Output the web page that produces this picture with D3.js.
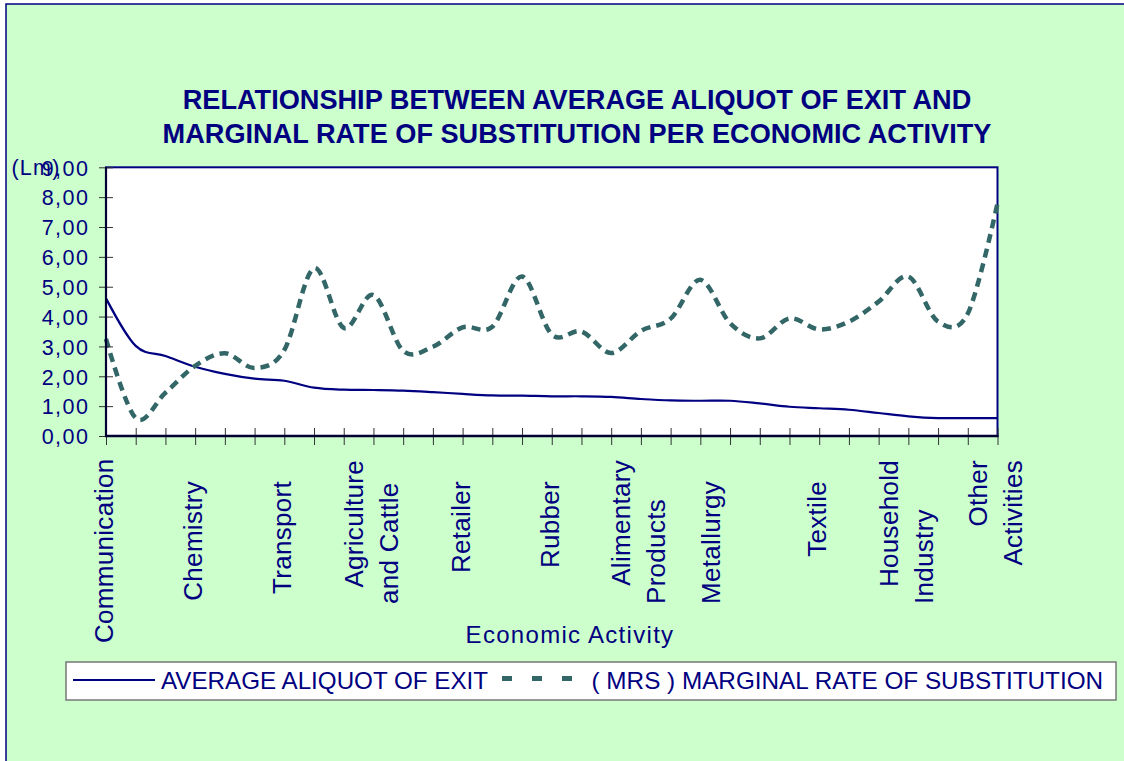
<!DOCTYPE html>
<html><head><meta charset="utf-8">
<script src="https://cdn.jsdelivr.net/npm/d3@7/dist/d3.min.js"></script>
<style>html,body{margin:0;padding:0;background:#fff;overflow:hidden}</style>
</head><body>
<svg id="chart" width="1124" height="761"></svg>
<script>
// ---------- DATA ----------
const titleLines = [
  "RELATIONSHIP BETWEEN AVERAGE ALIQUOT OF EXIT AND",
  "MARGINAL RATE OF SUBSTITUTION PER ECONOMIC ACTIVITY"
];
const xAxisTitle = "Economic Activity";
const yUnitLabel = "(Lm)";
const seriesNames = ["AVERAGE ALIQUOT OF EXIT", "( MRS ) MARGINAL RATE OF SUBSTITUTION"];
// values at the 31 category points (labels shown every third point)
const averageAliquot = [4.61, 3.02, 2.68, 2.32, 2.08, 1.92, 1.85, 1.62, 1.55, 1.54,
  1.52, 1.47, 1.41, 1.36, 1.35, 1.33, 1.33, 1.31, 1.24, 1.19,
  1.18, 1.18, 1.09, 0.98, 0.93, 0.88, 0.77, 0.66, 0.60, 0.60, 0.60];
const marginalRate = [3.25, 0.60, 1.45, 2.35, 2.77, 2.28, 2.88, 5.62, 3.62, 4.72,
  2.85, 2.99, 3.64, 3.66, 5.34, 3.40, 3.50, 2.78, 3.52, 3.93,
  5.23, 3.78, 3.27, 3.94, 3.57, 3.83, 4.50, 5.34, 3.83, 4.10, 7.79];
const categoryLabels = [
  ["Communication"], ["Chemistry"], ["Transport"], ["Agriculture", "and Cattle"],
  ["Retailer"], ["Rubber"], ["Alimentary", "Products"], ["Metallurgy", ""],
  ["Textile"], ["Household", "Industry"], ["Other", "Activities"]
];
const labelStep = 3;
const yTickValues = [0, 1, 2, 3, 4, 5, 6, 7, 8, 9];

// ---------- LAYOUT ----------
const W = 1124, H = 761;
const plot = {left: 106, right: 997.5, top: 167.3, bottom: 436};
const navy = "#000080", teal = "#336666";
const FONT = "'Liberation Sans', Arial, sans-serif";

const svg = d3.select("#chart").attr("font-family", FONT);

svg.append("rect").attr("width", W).attr("height", H).attr("fill", "#fff");
svg.append("rect").attr("x", 6).attr("y", 4).attr("width", W + 20).attr("height", H + 20)
  .attr("fill", "#CCFFCC").attr("stroke", navy).attr("stroke-width", 1.5);

// title
svg.append("g").selectAll("text").data(titleLines).join("text")
  .attr("x", 577).attr("y", (d, i) => 109 + i * 34)
  .attr("text-anchor", "middle").attr("font-weight", "bold").attr("font-size", 27.15)
  .attr("fill", navy).text(d => d);

const n = averageAliquot.length;
const x = d3.scaleLinear().domain([0, n - 1]).range([plot.left, plot.right]);
const y = d3.scaleLinear().domain([0, 9]).range([plot.bottom, plot.top]);

// plot area
svg.append("rect").attr("x", plot.left).attr("y", plot.top)
  .attr("width", plot.right - plot.left).attr("height", plot.bottom - plot.top)
  .attr("fill", "#fff").attr("stroke", navy).attr("stroke-width", 2);

// series
const line = d3.line().x((d, i) => x(i)).y(d => y(d)).curve(d3.curveCardinal.tension(0));
svg.append("path").datum(averageAliquot).attr("d", line)
  .attr("fill", "none").attr("stroke", navy).attr("stroke-width", 2.2);
svg.append("path").datum(marginalRate).attr("d", line)
  .attr("fill", "none").attr("stroke", teal).attr("stroke-width", 4.5)
  .attr("stroke-dasharray", "9,6");

// y axis
const fmt = v => d3.format(".2f")(v).replace(".", ",");
const gy = svg.append("g").attr("transform", `translate(${plot.left},0)`)
  .call(d3.axisLeft(y).tickValues(yTickValues).tickFormat(fmt).tickSize(7));
gy.select(".domain").remove();
gy.selectAll(".tick line").attr("x1", -7).attr("x2", 7).attr("stroke", "#333").attr("stroke-width", 1);
gy.selectAll(".tick text").attr("x", -16.5).attr("dy", "0.36em")
  .attr("font-size", 21.5).attr("letter-spacing", 1.5).attr("fill", navy)
  .attr("font-family", FONT);

svg.append("text").attr("x", 11.5).attr("y", y(9) + 7.6).attr("font-size", 21.5)
  .attr("letter-spacing", 1.2).attr("fill", navy).text(yUnitLabel);

// x axis ticks
const gx = svg.append("g").attr("transform", `translate(0,${plot.bottom})`)
  .call(d3.axisBottom(x).tickValues(d3.range(n)).tickFormat("").tickSize(9));
gx.select(".domain").remove();
gx.selectAll(".tick line").attr("y1", -8).attr("y2", 9).attr("stroke", "#333").attr("stroke-width", 1);

// axis lines
svg.append("line").attr("x1", plot.left).attr("x2", plot.left).attr("y1", plot.top).attr("y2", plot.bottom + 1)
  .attr("stroke", "#000033").attr("stroke-width", 2.2);
svg.append("line").attr("x1", plot.left - 1).attr("x2", plot.right + 1).attr("y1", plot.bottom).attr("y2", plot.bottom)
  .attr("stroke", "#000033").attr("stroke-width", 2.4);

// category labels (rotated)
const gl = svg.append("g");
categoryLabels.forEach((lines, k) => {
  const tx = x(k * labelStep);
  const nl = lines.length;
  const visible = lines.filter(s => s !== "").length;
  const lens = [];
  lines.forEach((s, j) => {
    if (s === "") { lens.push(0); return; }
    const bx = tx + 7 + (j - (nl - 1) / 2) * 35;
    const t = gl.append("text").attr("text-anchor", "end").attr("font-size", 26)
      .attr("letter-spacing", 0.3).attr("fill", navy).text(s);
    const L = t.node().getComputedTextLength();
    lens.push(L);
    let top;
    if (visible === 1) {
      top = 481;
      if (top + L > 643) top = 643 - L;
    } else if (j === 0) {
      top = 460;
    } else {
      top = (L > lens[0]) ? 460 : 604 - L;
    }
    t.attr("transform", `translate(${bx},${top}) rotate(-90)`);
  });
});

// x-axis title
svg.append("text").attr("x", 570).attr("y", 643).attr("text-anchor", "middle")
  .attr("font-size", 24).attr("letter-spacing", 1.3).attr("fill", navy).text(xAxisTitle);

// legend
const lg = svg.append("g");
lg.append("rect").attr("x", 66).attr("y", 662).attr("width", 1050).attr("height", 38)
  .attr("fill", "#fff").attr("stroke", "#777").attr("stroke-width", 1.5);
lg.append("line").attr("x1", 73).attr("x2", 155).attr("y1", 680).attr("y2", 680)
  .attr("stroke", navy).attr("stroke-width", 2.2);
lg.append("text").attr("x", 161).attr("y", 689).attr("font-size", 24.2).attr("fill", navy).text(seriesNames[0]);
lg.append("line").attr("x1", 502).attr("x2", 575).attr("y1", 678.5).attr("y2", 678.5)
  .attr("stroke", teal).attr("stroke-width", 5).attr("stroke-dasharray", "10,20");
lg.append("text").attr("x", 591.5).attr("y", 689).attr("font-size", 24.3).attr("fill", navy).text(seriesNames[1]);
</script>
</body></html>
